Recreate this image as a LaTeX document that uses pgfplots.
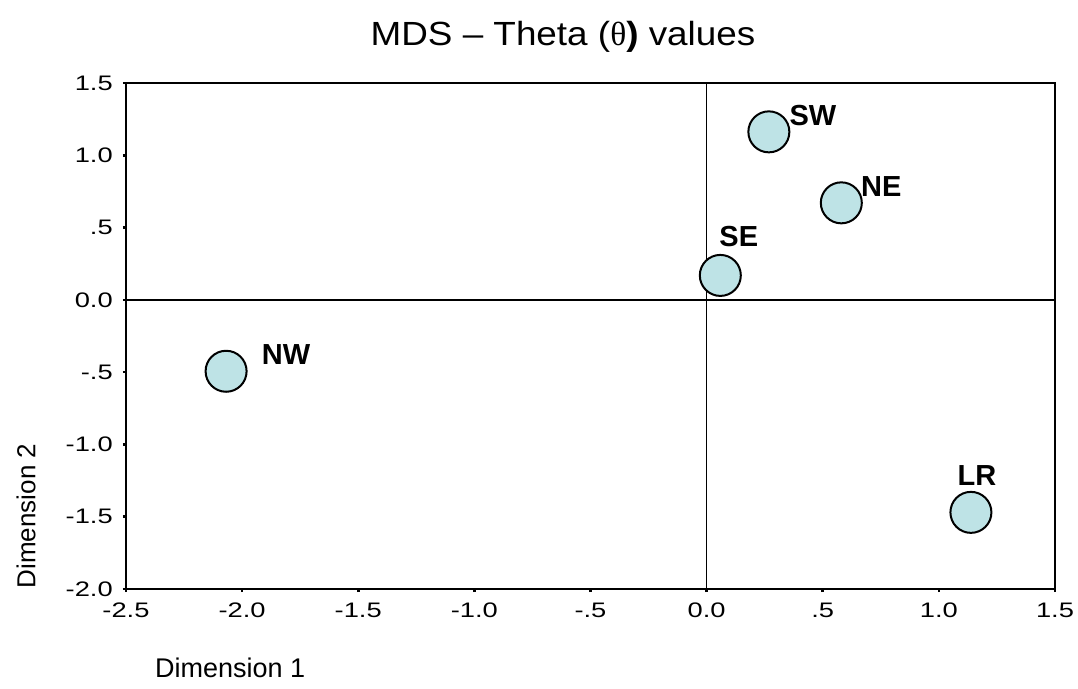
\documentclass[border=0pt]{standalone}
\usepackage{fontspec}
\setmainfont{Liberation Sans}
\newfontfamily\tickfont[FakeStretch=1.3]{Liberation Sans}
\newfontfamily\titlefont[FakeStretch=1.1]{Liberation Sans}
\newfontfamily\symfont{Liberation Serif}
\usepackage{pgfplots}
\pgfplotsset{compat=1.18}
\definecolor{mk}{RGB}{190,227,230}
\pgfplotstableread{
x y dx dy label
0.268 1.162 22 8 SW
0.580 0.671 20 8 NE
0.059 0.169 9.25 19.25 SE
-2.069 -0.494 30 8.5 NW
1.138 -1.470 3 18.5 LR
}\mdsdata
\begin{document}
\begin{tikzpicture}
\useasboundingbox (-63pt,-50pt) rectangle (476pt,294.5pt);
\begin{axis}[at={(0,0)}, anchor=south west, scale only axis,
  width=464.5pt, height=253pt,
  xmin=-2.5, xmax=1.5, ymin=-2, ymax=1.5,
  xtick={-2.5,-2,-1.5,-1,-0.5,0,0.5,1,1.5},
  xticklabels={-2.5,-2.0,-1.5,-1.0,-.5,0.0,.5,1.0,1.5},
  ytick={-2,-1.5,-1,-0.5,0,0.5,1,1.5},
  yticklabels={-2.0,-1.5,-1.0,-.5,0.0,.5,1.0,1.5},
  tick label style={font=\tickfont\fontsize{10.5}{12}\selectfont},
  xticklabel style={yshift=-2pt}, yticklabel style={xshift=-1.5pt},
  xtick pos=left, ytick pos=left, tick align=outside, major tick length=1.6pt,
  every tick/.style={black, line width=1.3pt},
  axis line style={line width=1pt},
  clip=false]
\addplot[black, line width=0.75pt] coordinates {(0,-2) (0,1.5)};
\addplot[black, line width=0.75pt] coordinates {(-2.5,0) (1.5,0)};
\addplot[only marks, mark=*, mark size=10.25pt,
  mark options={fill=mk, draw=black, line width=1pt},
  nodes near coords, point meta=explicit symbolic,
  visualization depends on={\thisrow{dx} \as \dx},
  visualization depends on={\thisrow{dy} \as \dy},
  nodes near coords style={font=\bfseries\fontsize{14.5}{16}\selectfont, anchor=center, xshift=\dx pt, yshift=\dy pt, text=black}]
  table[x=x, y=y, meta=label] {\mdsdata};
\end{axis}
\node[rotate=90, font=\fontsize{13}{15}\selectfont] at (-50pt,36.5pt) {Dimension 2};
\node[anchor=west, font=\fontsize{13.5}{15}\selectfont] at (11pt,-39.5pt) {Dimension 1};
\node[font=\titlefont\fontsize{16.75}{19}\selectfont] at (218.5pt,276pt) {MDS \textendash{} Theta ({\symfont θ}\textbf{)} values};
\end{tikzpicture}
\end{document}
